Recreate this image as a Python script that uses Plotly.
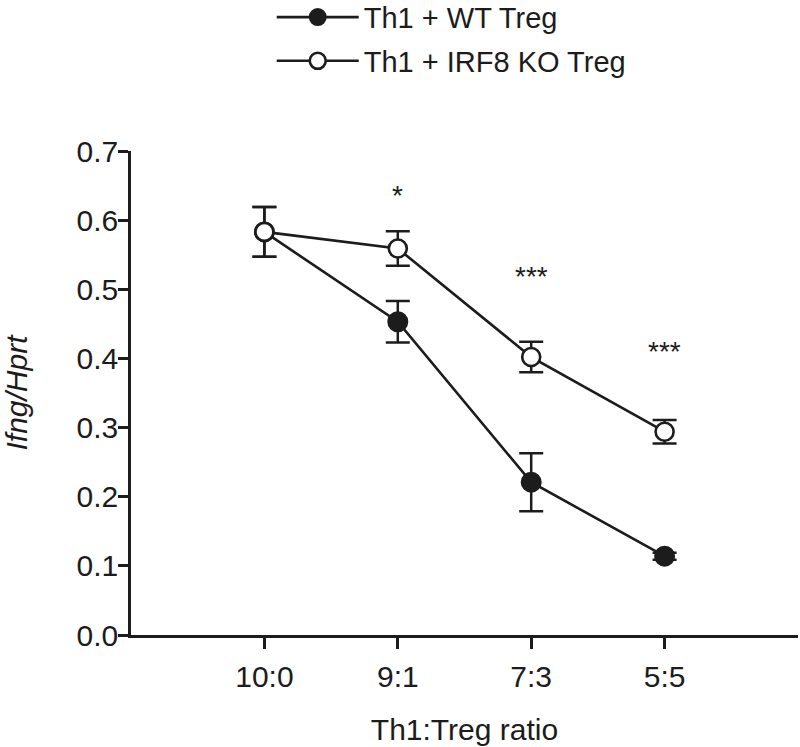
import plotly.graph_objects as go

categories = ["10:0", "9:1", "7:3", "5:5"]
x_pos = [1, 2, 3, 4]

wt_mean = [0.583, 0.453, 0.221, 0.114]
wt_err = [0.036, 0.030, 0.042, 0.005]

ko_mean = [0.583, 0.559, 0.402, 0.294]
ko_err = [0.036, 0.025, 0.022, 0.017]

sig_labels = ["*", "***", "***"]
sig_x = [2, 3, 4]
sig_y = [0.636, 0.519, 0.410]

ink = "#1c1c1c"
font_family = "Liberation Sans, Arial, Helvetica, sans-serif"

fig = go.Figure()

fig.add_trace(go.Scatter(
    x=x_pos, y=wt_mean, mode="lines+markers", name="Th1 + WT Treg",
    legendgroup="wt",
    line=dict(color=ink, width=2.6),
    marker=dict(symbol="circle", size=19, color=ink, line=dict(color=ink, width=2)),
    error_y=dict(type="data", array=wt_err, visible=True, color=ink, thickness=2.5, width=12),
))

fig.add_trace(go.Scatter(
    x=x_pos, y=ko_mean, mode="lines+markers", name="Th1 + IRF8 KO Treg",
    legendgroup="ko",
    line=dict(color=ink, width=2.6),
    marker=dict(symbol="circle", size=18, color="white", line=dict(color=ink, width=2.6)),
    error_y=dict(type="data", array=ko_err, visible=True, color=ink, thickness=2.5, width=12),
))

for sx, sy, s in zip(sig_x, sig_y, sig_labels):
    fig.add_annotation(x=sx, y=sy, text=s, showarrow=False,
                       font=dict(size=28, color=ink, family=font_family))

fig.update_layout(
    width=800, height=747,
    margin=dict(l=131, r=2, t=151, b=112, autoexpand=False),
    paper_bgcolor="white", plot_bgcolor="white",
    font=dict(family=font_family, color=ink, size=29),
    showlegend=True,
    legend=dict(x=0.211, y=1.329, xanchor="left", yanchor="top",
                font=dict(size=29, color=ink), itemwidth=82,
                tracegroupgap=3, bgcolor="rgba(0,0,0,0)"),
)

fig.update_xaxes(
    range=[0, 5], tickvals=x_pos, ticktext=categories,
    showline=True, linecolor=ink, linewidth=2.5,
    ticks="outside", ticklen=11, tickwidth=2.5, tickcolor=ink,
    showgrid=False, zeroline=False,
    tickfont=dict(size=30, color=ink), ticklabelstandoff=2,
    title=dict(text="Th1:Treg ratio", font=dict(size=30, color=ink), standoff=28),
)

fig.update_yaxes(
    range=[0, 0.7], tickvals=[0, 0.1, 0.2, 0.3, 0.4, 0.5, 0.6, 0.7],
    tickformat=".1f",
    showline=True, linecolor=ink, linewidth=2.5,
    ticks="outside", ticklen=10, tickwidth=2.5, tickcolor=ink,
    showgrid=False, zeroline=False,
    tickfont=dict(size=30, color=ink), ticklabelstandoff=-6,
    title=dict(text="<i>Ifng/Hprt</i>", font=dict(size=30, color=ink), standoff=48),
)

fig.write_html("out.html", config={"displayModeBar": False},
               post_script="document.body.style.margin='0';")
